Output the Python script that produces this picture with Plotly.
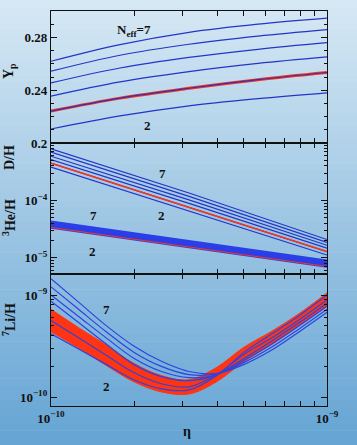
import numpy as np
import plotly.graph_objects as go

W, H = 357, 445
L, R, T, B = 51, 30, 11, 39

# ---------------- data (log10 values) ----------------
n_eff = [2, 3, 4, 5, 6, 7]

# Top panel: helium mass fraction Y_p vs log10(eta)
logeta_yp = [-10.0, -9.75, -9.5, -9.25, -9.0]
yp_n2 = [0.2106, 0.2205, 0.2282, 0.2336, 0.2380]
yp_n3 = [0.2242, 0.2340, 0.2415, 0.2480, 0.2534]
yp_n4 = [0.2355, 0.2463, 0.2541, 0.2603, 0.2652]
yp_n5 = [0.2455, 0.2568, 0.2648, 0.2710, 0.2760]
yp_n6 = [0.2544, 0.2665, 0.2748, 0.2810, 0.2859]
yp_n7 = [0.2619, 0.2745, 0.2838, 0.2900, 0.2946]

# Middle panel: log10(D/H) and log10(3He/H)
logeta_dh = [-10.0, -9.5, -9.0]
dh_n2 = [-3.42, -4.18, -4.95]
dh_n3 = [-3.35, -4.12, -4.89]
dh_n4 = [-3.29, -4.05, -4.83]
dh_n5 = [-3.23, -3.99, -4.78]
dh_n6 = [-3.16, -3.93, -4.73]
dh_n7 = [-3.10, -3.87, -4.68]

he_n2 = [-4.47, -4.81, -5.15]
he_n3 = [-4.45, -4.79, -5.13]
he_n4 = [-4.43, -4.77, -5.11]
he_n5 = [-4.41, -4.75, -5.09]
he_n6 = [-4.39, -4.73, -5.07]
he_n7 = [-4.37, -4.71, -5.05]

# Bottom panel: log10(7Li/H)
logeta_li = [-10.0, -9.9, -9.8, -9.7, -9.6, -9.5, -9.4, -9.3, -9.2, -9.1, -9.0]
li_n2 = [-9.38, -9.53, -9.68, -9.83, -9.92, -9.93, -9.79, -9.56, -9.38, -9.20, -9.00]
li_n3 = [-9.25, -9.42, -9.59, -9.76, -9.87, -9.90, -9.78, -9.58, -9.42, -9.24, -9.05]
li_n4 = [-9.06, -9.27, -9.48, -9.68, -9.80, -9.84, -9.78, -9.62, -9.45, -9.27, -9.08]
li_n5 = [-9.00, -9.21, -9.42, -9.62, -9.75, -9.81, -9.78, -9.64, -9.48, -9.30, -9.11]
li_n6 = [-8.92, -9.14, -9.36, -9.56, -9.70, -9.78, -9.77, -9.66, -9.51, -9.33, -9.14]
li_n7 = [-8.84, -9.07, -9.30, -9.50, -9.65, -9.75, -9.77, -9.68, -9.54, -9.36, -9.17]
# red uncertainty band of the N=3 lithium curve
li_band_hi = [-9.14, -9.32, -9.49, -9.67, -9.79, -9.83, -9.71, -9.51, -9.355, -9.18, -8.98]
li_band_lo = [-9.36, -9.52, -9.69, -9.85, -9.95, -9.97, -9.85, -9.65, -9.485, -9.30, -9.11]

x_tickvals = [1e-10, 2e-10, 3e-10, 4e-10, 5e-10, 6e-10, 7e-10, 8e-10, 9e-10, 1e-9]
x_ticklabels = ["<b>10<sup>−10</sup></b>", "", "", "", "", "", "", "", "", "<b>10<sup>−9</sup></b>"]

# ---------------- styling ----------------
BLUE = "#2335c8"
BLUE_LI = "#2c44e0"
RED = "#ff3412"
FONT = "Liberation Serif"

def lin(v):
    return list(np.power(10.0, v))

fig = go.Figure()

# background gradient (paper-referenced horizontal bands)
pw = W - L - R
ph = H - T - B
nb = 60
c_top = np.array([214, 232, 244])
c_bot = np.array([102, 165, 212])
for i in range(nb):
    f = i / (nb - 1)
    c = (c_top * (1 - f) + c_bot * f).astype(int)
    py0 = i * H / nb
    py1 = (i + 1) * H / nb + 0.6
    fig.add_shape(type="rect", xref="paper", yref="paper",
                  x0=-L / pw, x1=1 + R / pw,
                  y0=(H - B - py1) / ph, y1=(H - B - py0) / ph,
                  fillcolor=f"rgb({c[0]},{c[1]},{c[2]})", line_width=0,
                  layer="below")

# Top panel (x3/y3)
ex = lin(logeta_yp)
fig.add_trace(go.Scatter(x=ex, y=yp_n3, mode="lines", line=dict(color=RED, width=3, shape="spline"),
                         xaxis="x3", yaxis="y3", hoverinfo="skip"))
for ys in [yp_n2, yp_n3, yp_n4, yp_n5, yp_n6, yp_n7]:
    fig.add_trace(go.Scatter(x=ex, y=ys, mode="lines", line=dict(color=BLUE, width=1.2, shape="spline"),
                             xaxis="x3", yaxis="y3", hoverinfo="skip"))

# Middle panel (x2/y2)
ex = lin(logeta_dh)
for ys in [he_n2, he_n3, he_n4, he_n5, he_n6, he_n7]:
    fig.add_trace(go.Scatter(x=ex, y=lin(ys), mode="lines", line=dict(color="#2a3fe8", width=2.6),
                             xaxis="x2", yaxis="y2", hoverinfo="skip"))
fig.add_trace(go.Scatter(x=ex, y=lin(he_n2), mode="lines", line=dict(color=RED, width=1.0),
                         xaxis="x2", yaxis="y2", hoverinfo="skip"))
for ys in [dh_n2, dh_n3, dh_n4, dh_n5, dh_n6, dh_n7]:
    fig.add_trace(go.Scatter(x=ex, y=lin(ys), mode="lines", line=dict(color=BLUE, width=1.2),
                             xaxis="x2", yaxis="y2", hoverinfo="skip"))
fig.add_trace(go.Scatter(x=ex, y=lin(dh_n3), mode="lines", line=dict(color=RED, width=1.5),
                         xaxis="x2", yaxis="y2", hoverinfo="skip"))

# Bottom panel (x/y)
ex = lin(logeta_li)
fig.add_trace(go.Scatter(x=ex, y=lin(li_band_lo), mode="lines", line=dict(color=RED, width=1, shape="spline"),
                         xaxis="x", yaxis="y", hoverinfo="skip"))
fig.add_trace(go.Scatter(x=ex, y=lin(li_band_hi), mode="lines", line=dict(color=RED, width=1, shape="spline"),
                         fill="tonexty", fillcolor=RED, xaxis="x", yaxis="y", hoverinfo="skip"))
for ys in [li_n2, li_n3, li_n4, li_n5, li_n6, li_n7]:
    fig.add_trace(go.Scatter(x=ex, y=lin(ys), mode="lines", line=dict(color=BLUE_LI, width=1.2, shape="spline"),
                             xaxis="x", yaxis="y", hoverinfo="skip"))

tickfont = dict(family=FONT, size=13, color="#111")
common_x = dict(type="log", range=[-10, -9], tickvals=x_tickvals, ticks="inside", ticklen=5,
                tickcolor="#111", showline=True, linecolor="#111", linewidth=1.2, mirror="allticks",
                showgrid=False, zeroline=False, tickfont=tickfont)
common_y = dict(ticks="inside", ticklen=6, tickcolor="#111", showline=True, linecolor="#111",
                linewidth=1.2, mirror="allticks", showgrid=False, zeroline=False, tickfont=tickfont)

d1, d2 = 132.0 / ph, 263.0 / ph

fig.update_layout(
    width=W, height=H, margin=dict(l=L, r=R, t=T, b=B),
    paper_bgcolor="rgba(0,0,0,0)", plot_bgcolor="rgba(0,0,0,0)",
    showlegend=False,
    xaxis=dict(common_x, anchor="y", domain=[0, 1], ticktext=x_ticklabels),
    xaxis2=dict(common_x, anchor="y2", matches="x", ticktext=[""] * 10),
    xaxis3=dict(common_x, anchor="y3", matches="x", ticktext=[""] * 10),
    yaxis=dict(common_y, type="log", domain=[0, d1], range=[-10.088, -8.794],
               tickvals=[1e-10, 1e-9], ticktext=["<b>10<sup>−10</sup></b>", "<b>10<sup>−9</sup></b>"],
               minor=dict(ticks="inside", ticklen=3, tickcolor="#111",
                          tickvals=[2e-10, 3e-10, 4e-10, 5e-10, 6e-10, 7e-10, 8e-10, 9e-10, 2e-9, 3e-9, 4e-9, 5e-9]),
               anchor="x"),
    yaxis2=dict(common_y, type="log", domain=[d1, d2], range=[-5.28, -3.0],
                tickvals=[1e-5, 1e-4], ticktext=["<b>10<sup>−5</sup></b>", "<b>10<sup>−4</sup></b>"],
                minor=dict(ticks="inside", ticklen=3, tickcolor="#111",
                           tickvals=[6e-6, 7e-6, 8e-6, 9e-6, 2e-5, 3e-5, 4e-5, 5e-5, 6e-5, 7e-5, 8e-5, 9e-5,
                                     2e-4, 3e-4, 4e-4, 5e-4, 6e-4, 7e-4, 8e-4, 9e-4]),
                anchor="x2"),
    yaxis3=dict(common_y, domain=[d2, 1], range=[0.2, 0.3],
                tickvals=[0.2, 0.24, 0.28], ticktext=["<b>0.2</b>", "<b>0.24</b>", "<b>0.28</b>"],
                minor=dict(ticks="inside", ticklen=3, tickcolor="#111", dtick=0.01),
                anchor="x3"),
)

def ann(text, px, py, size=13, angle=0):
    fig.add_annotation(text=text, xref="paper", yref="paper",
                       x=(px - L) / pw, y=(H - B - py) / ph, showarrow=False,
                       xanchor="center", yanchor="middle",
                       textangle=angle, font=dict(family=FONT, size=size, color="#111"))

# panel labels
ann("<b>N<sub>eff</sub>=7</b>", 134, 30, 13)
ann("<b>2</b>", 147, 125, 13)
ann("<b>7</b>", 162, 173, 13)
ann("<b>2</b>", 161, 215, 13)
ann("<b>7</b>", 93, 215, 13)
ann("<b>2</b>", 92, 252, 13)
ann("<b>7</b>", 106, 309, 13)
ann("<b>2</b>", 106, 386, 13)

# axis titles
ann("<b>Y<sub>p</sub></b>", 9, 71, 14, -90)
ann("<b>D/H</b>", 9, 158, 14, -90)
ann("<b><sup>3</sup>He/H</b>", 9, 218, 14, -90)
ann("<b><sup>7</sup>Li/H</b>", 9, 320, 14, -90)
ann("<b>η</b>", 187, 432, 14)

fig.write_html("out.html", config={"displayModeBar": False, "staticPlot": True},
               post_script="document.body.style.margin='0';document.body.style.overflow='hidden';")
